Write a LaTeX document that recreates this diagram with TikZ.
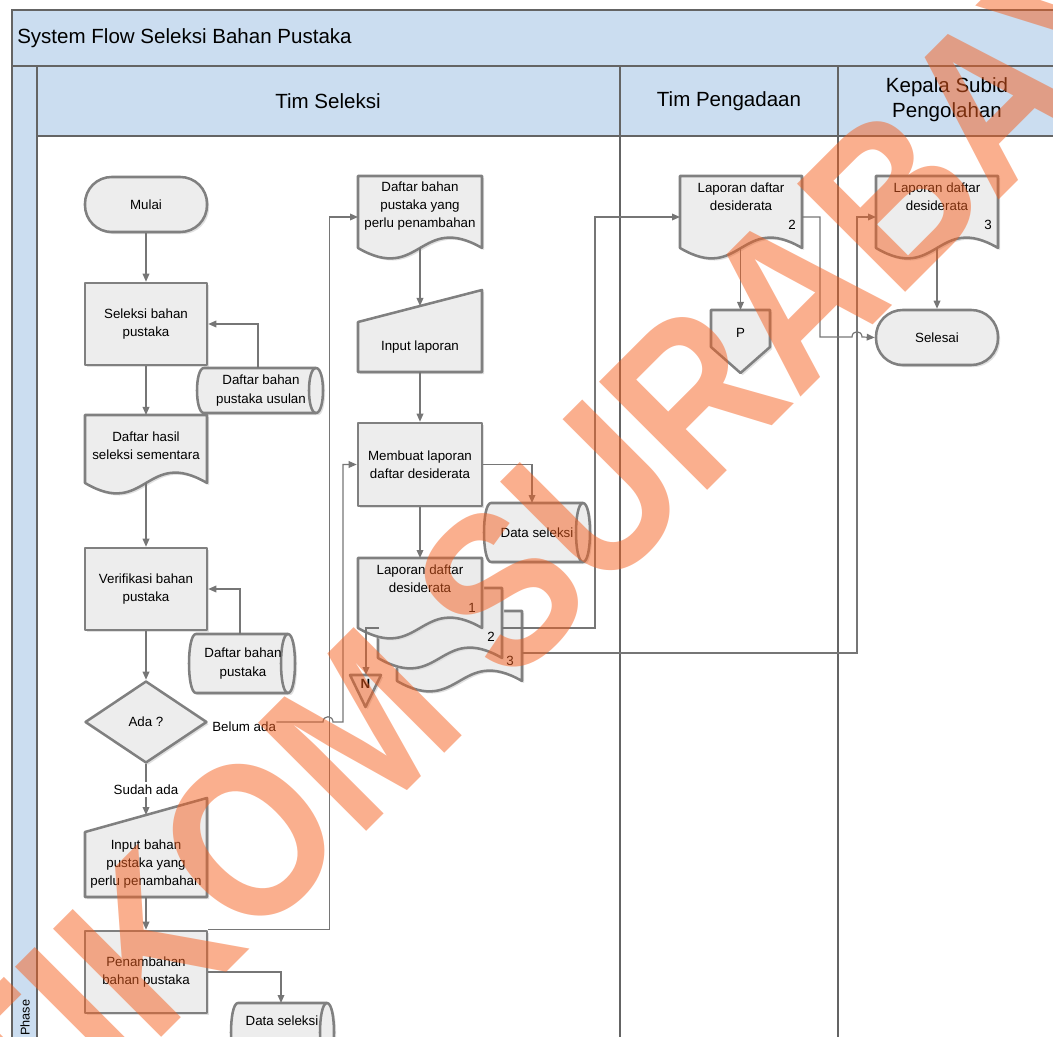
\documentclass[tikz,border=0pt]{standalone}
\usepackage{fontspec}
\usepackage{graphicx}
\setmainfont{Liberation Sans}
\usetikzlibrary{arrows.meta,shapes.geometric,calc,shadows}
\definecolor{hdr}{RGB}{203,221,240}
\definecolor{shp}{RGB}{237,237,237}
\definecolor{shpline}{RGB}{128,128,128}
\definecolor{connc}{RGB}{118,118,118}
\definecolor{lanec}{RGB}{100,100,100}
\definecolor{wm}{RGB}{245,95,30}
\newcommand\docpath[5][]{\draw[shapeline,#1] (#2,#4) -- (#3,#4) -- (#3,#5) .. controls ({(#2+#3)/2},{#5-36}) and ({(#2+#3)/2},{#5+36}) .. (#2,#5) -- cycle;}
\newcommand\stpath[5]{%
  \draw[shapeline] ({#1+#5},#3) -- ({#2-#5},#3) .. controls ({#2+#5/3},#3) and ({#2+#5/3},#4) .. ({#2-#5},#4) -- ({#1+#5},#4) .. controls ({#1-#5/3},#4) and ({#1-#5/3},#3) .. cycle;
  \draw[draw=shpline,line width=1.9pt] ({#2-#5},#3) .. controls ({#2-7*#5/3},#3) and ({#2-7*#5/3},#4) .. ({#2-#5},#4);}
\begin{document}
\begin{tikzpicture}[x=0.75pt,y=-0.75pt,
  shapeline/.style={draw=shpline, line width=1.9pt, fill=shp, line join=round,
    general shadow={fill=black!12, shadow xshift=1.6pt, shadow yshift=-1.6pt}},
  lbl/.style={font=\fontsize{10}{13.8}\selectfont, align=center, inner sep=0pt},
  big/.style={font=\fontsize{15.4}{19}\selectfont, align=center, inner sep=0pt},
  proc/.style={shapeline, rectangle, minimum width=91.5pt, minimum height=61.5pt, lbl},
  term/.style={shapeline, rectangle, rounded corners=20pt, minimum width=91.5pt, minimum height=41.25pt, lbl},
  conn/.style={draw=connc, line width=0.9pt, -{Triangle[length=6pt,width=5pt]}},
  lanestyle/.style={draw=lanec, line width=2.2pt}
]
\useasboundingbox (0,0) rectangle (1053,1037);
\clip (0,0) rectangle (1053,1037);
% ---- frame
\fill[hdr] (12,10) rectangle (1060,136);
\fill[hdr] (12,136) rectangle (37,1040);
\draw[lanestyle] (1060,10) -- (12,10) -- (12,1040);
\draw[lanestyle] (12,66) -- (1060,66);
\draw[lanestyle] (37,66) -- (37,1040);
\draw[lanestyle] (37,136) -- (1060,136);
\draw[lanestyle] (620,66) -- (620,1040);
\draw[lanestyle] (838,66) -- (838,1040);
\node[big, anchor=west] (title) at (17,38) {System Flow Seleksi Bahan Pustaka};
\node[big] (lane1) at (328,101) {Tim Seleksi};
\node[big] (lane2) at (729,101) {Tim Pengadaan};
\node[big] (lane3) at (947,100) {Kepala Subid\\Pengolahan};
\node[rotate=90, anchor=west, inner sep=0, font=\fontsize{9.5}{10}\selectfont] (phase) at (25,1036) {Phase};
% ---- Tim Seleksi, left column
\node[term] (mulai) at (146,204.5) {Mulai};
\node[proc] (seleksi) at (146,324) {Seleksi bahan\\pustaka};
\stpath{197}{323}{368}{413}{7}
\node[lbl] (usulan) at (261,390.5) {Daftar bahan\\pustaka usulan};
\coordinate (usulan-n) at (258,368);
\docpath{85}{207}{415}{483}
\node[lbl] (hasil) at (146,446) {Daftar hasil\\seleksi sementara};
\coordinate (hasil-n) at (146,415);
\coordinate (hasil-b) at (146,483);
\node[proc] (verif) at (146,589) {Verifikasi bahan\\pustaka};
\stpath{189}{295}{634}{693}{7}
\node[lbl] (dbp) at (243,663.5) {Daftar bahan\\pustaka};
\coordinate (dbp-n) at (240,634);
\node[shapeline, diamond, minimum width=91.5pt, minimum height=61.5pt, aspect=1.49, lbl] (ada) at (146,722) {Ada ?};
\draw[shapeline] (85,832) -- (207,798) -- (207,897) -- (85,897) -- cycle;
\node[lbl] (inb) at (146,864) {Input bahan\\pustaka yang\\perlu penambahan};
\coordinate (inb-n) at (146,815);
\coordinate (inb-s) at (146,897);
\node[proc] (penamb) at (146,972) {Penambahan\\bahan pustaka};
\stpath{231}{334}{1003}{1062}{7}
\node[lbl] (ds1) at (282,1021) {Data seleksi};
\coordinate (ds1-n) at (281,1003);
% ---- Tim Seleksi, middle column
\docpath{358}{482}{176}{248}
\node[lbl] (perlu) at (420,206) {Daftar bahan\\pustaka yang\\perlu penambahan};
\coordinate (perlu-w) at (358,217);
\coordinate (perlu-b) at (420,248);
\draw[shapeline] (358,322) -- (482,290) -- (482,372) -- (358,372) -- cycle;
\node[lbl] (inlap) at (420,347) {Input laporan};
\coordinate (inlap-n) at (420,306);
\coordinate (inlap-s) at (420,372);
\node[proc, minimum width=93pt, minimum height=62.25pt] (membuat) at (420,464.5) {Membuat laporan\\daftar desiderata};
\stpath{484}{590}{503}{562}{7}
\node[lbl] (ds2) at (537,533) {Data seleksi};
\coordinate (ds2-n) at (532,503);
\docpath{397}{522}{611}{681}
\docpath[fill opacity=0.85]{378}{502}{588}{658}
\docpath[fill opacity=0.85]{358}{482}{558}{628}
\node[lbl] (m1t) at (420,579) {Laporan daftar\\desiderata};
\node[lbl] (m1n) at (472,608) {1};
\node[lbl] (m2n) at (491,637) {2};
\node[lbl] (m3n) at (510,661) {3};
\coordinate (m1-n) at (420,558);
\coordinate (m1-l) at (379,628);
\coordinate (m2-e) at (502,628);
\coordinate (m3-e) at (522,653);
\draw[shapeline] (350,675) -- (381,675) -- (365.5,707) -- cycle;
\node[lbl, font=\fontsize{10}{12}\selectfont\bfseries] (ntri) at (365.5,684) {N};
\coordinate (ntri-n) at (366,675);
% ---- Tim Pengadaan
\docpath{680}{802}{176}{248}
\node[lbl] (lap2) at (741,197) {Laporan daftar\\desiderata};
\node[lbl] (lap2n) at (792,225) {2};
\coordinate (lap2-w) at (680,217);
\coordinate (lap2-e) at (802,217);
\coordinate (lap2-b) at (740.5,248);
\draw[shapeline] (711,310) -- (770,310) -- (770,347) -- (740.5,373) -- (711,347) -- cycle;
\node[lbl] (pcon) at (740.5,333) {P};
\coordinate (p-n) at (740.5,310);
% ---- Kepala Subid Pengolahan
\docpath{876}{998}{176}{248}
\node[lbl] (lap3) at (937,197) {Laporan daftar\\desiderata};
\node[lbl] (lap3n) at (988,225) {3};
\coordinate (lap3-w) at (876,217);
\coordinate (lap3-b) at (937,248);
\node[term] (selesai) at (937,337.5) {Selesai};
% ---- connectors
\draw[conn] (mulai.south) -- (seleksi.north);
\draw[conn] (usulan-n) |- (seleksi.east);
\draw[conn] (seleksi.south) -- (hasil-n);
\draw[conn] (hasil-b) -- (verif.north);
\draw[conn] (dbp-n) |- (verif.east);
\draw[conn] (verif.south) -- (ada.north);
\draw[conn] (ada.south) -- node[lbl, fill=white, inner sep=2pt] (sudah) {Sudah ada} (inb-n);
\draw[conn] (inb-s) -- (penamb.north);
\draw[conn] (penamb.north east) -- ++(121,0) |- (perlu-w);
\draw[conn] (penamb.east) -| (ds1-n);
\node[lbl, anchor=west] (belum) at (212,727) {Belum ada};
\draw[conn] (belum.east |- ada.east) -- (323,722) .. controls +(0,-7) and +(0,-7) .. (333,722) -- (343,722) |- (membuat.west);
\draw[conn] (perlu-b) -- (inlap-n);
\draw[conn] (inlap-s) -- (membuat.north);
\draw[conn] (membuat.east) -| (ds2-n);
\draw[conn] (membuat.south) -- (m1-n);
\draw[conn] (m1-l) -- (ntri-n |- m1-l) -- (ntri-n);
\draw[conn] (m2-e) -- ++(93,0) |- (lap2-w);
\draw[conn] (m3-e) -- ++(335,0) |- (lap3-w);
\draw[conn] (lap2-b) -- (p-n);
\draw[conn] (lap2-e) -- ++(18,0) -- ++(0,120) -- (852,337) .. controls +(0,-7) and +(0,-7) .. (862,337) -- (selesai.west);
\draw[conn] (lap3-b) -- (selesai.north);
% ---- watermark
\node[rotate=45, text=wm, opacity=0.5, inner sep=0, font=\fontsize{145}{145}\selectfont\bfseries] (wmark) at (545,545) {\scalebox{1}[1.15]{STIKOM SURABAYA}};
\end{tikzpicture}
\end{document}
